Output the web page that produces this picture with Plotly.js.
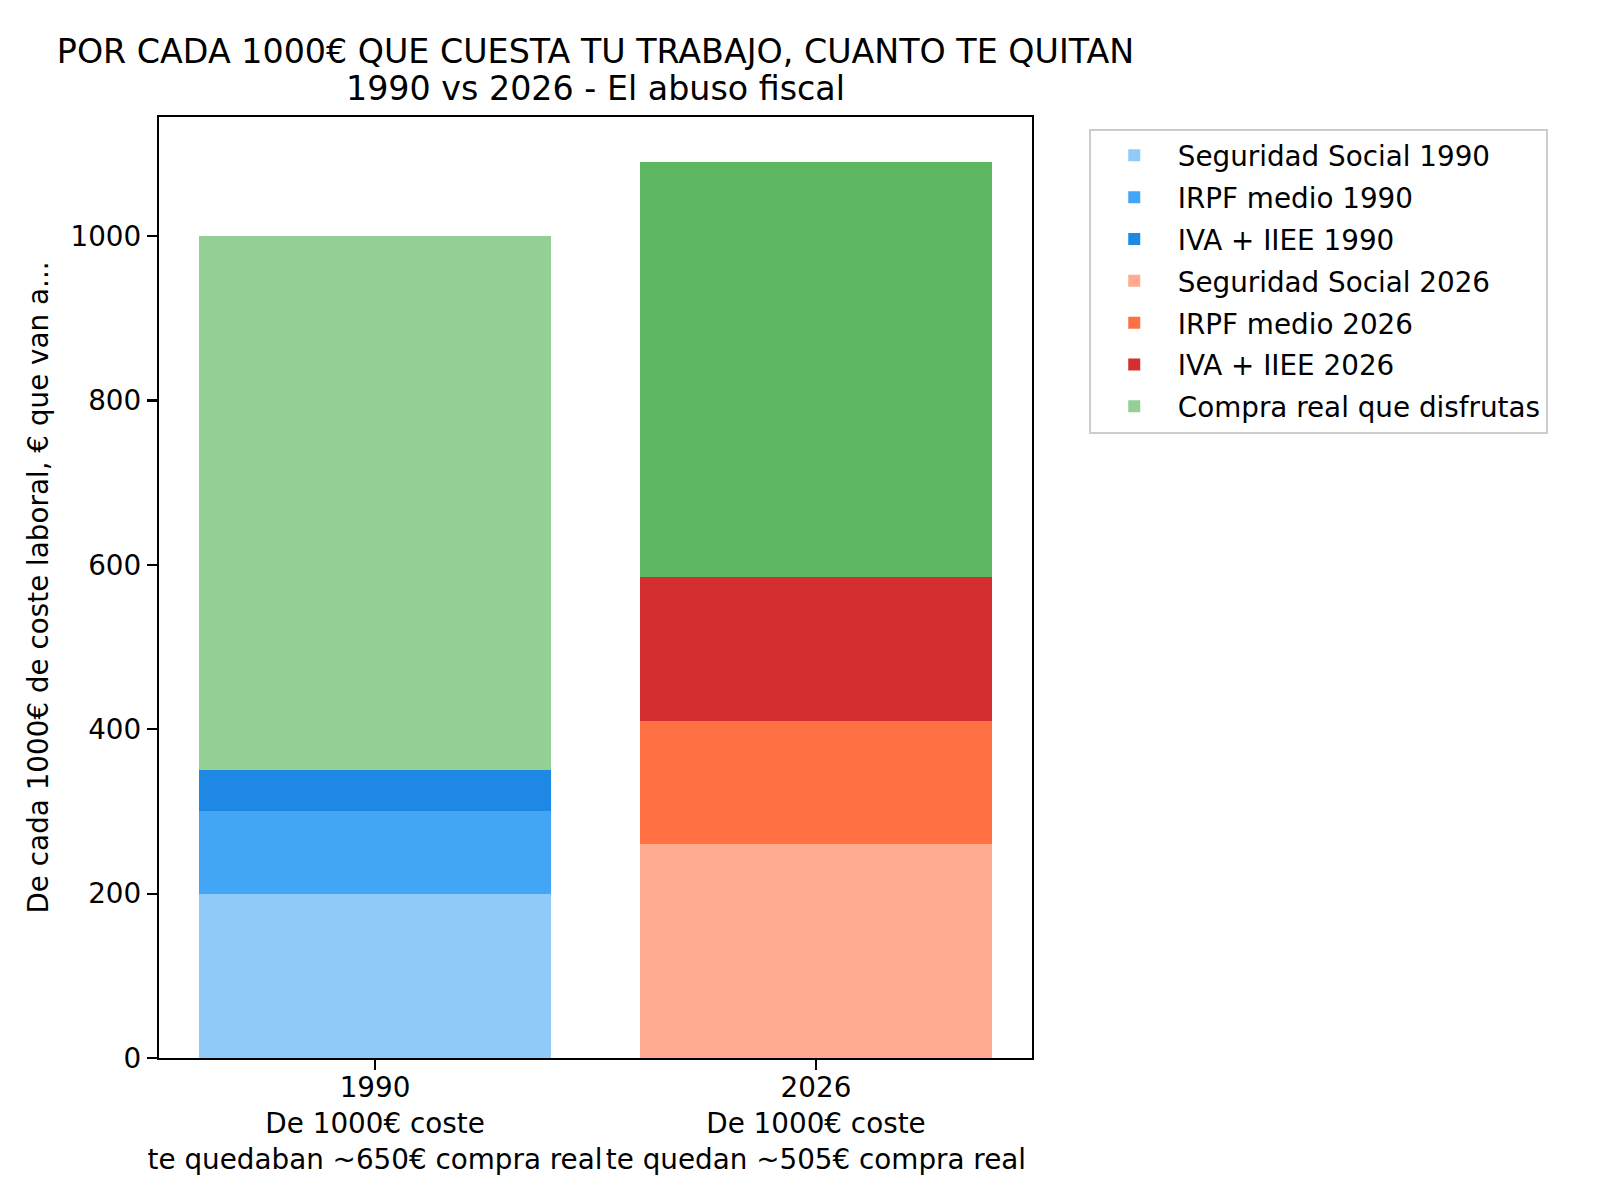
<!DOCTYPE html>
<html>
<head>
<meta charset="utf-8">
<script src="https://cdn.plot.ly/plotly-3.0.1.min.js"></script>
<style>html,body{margin:0;padding:0;background:#fff;}#chart{width:1600px;height:1200px;}</style>
</head>
<body>
<div id="chart"></div>
<script>
// ---- data ----
var categories = ['1990', '2026'];
var tickLabels = [
  '1990<br>De 1000€ coste<br>te quedaban ~650€ compra real',
  '2026<br>De 1000€ coste<br>te quedan ~505€ compra real'
];
var ss1990 = [200];
var irpf1990 = [100];
var iva1990 = [50];
var ss2026 = [260];
var irpf2026 = [150];
var iva2026 = [175];
var compraReal = [650, 505];

var seriesNames = [
  'Seguridad Social 1990', 'IRPF medio 1990', 'IVA + IIEE 1990',
  'Seguridad Social 2026', 'IRPF medio 2026', 'IVA + IIEE 2026',
  'Compra real que disfrutas'
];
var titleLine1 = 'POR CADA 1000€ QUE CUESTA TU TRABAJO, CUANTO TE QUITAN';
var titleLine2 = '1990 vs 2026 - El abuso fiscal';
var yTitle = 'De cada 1000€ de coste laboral, € que van a...';

var colors = {
  ss1990: '#90CAF9', irpf1990: '#42A5F5', iva1990: '#1E88E5',
  ss2026: '#FFAB91', irpf2026: '#FF7043', iva2026: '#D32F2F',
  compra: ['#94CF96', '#5EB761']
};

function bar(name, x, y, color, group) {
  return {
    type: 'bar', name: name, x: x, y: y, width: 0.8,
    marker: {color: color, line: {width: 0}},
    legendgroup: group, hoverinfo: 'name+y'
  };
}

var traces = [
  bar(seriesNames[0], [categories[0]], ss1990, colors.ss1990, 'g1'),
  bar(seriesNames[1], [categories[0]], irpf1990, colors.irpf1990, 'g2'),
  bar(seriesNames[2], [categories[0]], iva1990, colors.iva1990, 'g3'),
  bar(seriesNames[3], [categories[1]], ss2026, colors.ss2026, 'g4'),
  bar(seriesNames[4], [categories[1]], irpf2026, colors.irpf2026, 'g5'),
  bar(seriesNames[5], [categories[1]], iva2026, colors.iva2026, 'g6'),
  bar(seriesNames[6], categories, compraReal, colors.compra, 'g7')
];

var font = 'DejaVu Sans, sans-serif';
var fs = 27.8;
var layout = {
  width: 1600, height: 1200,
  paper_bgcolor: '#ffffff', plot_bgcolor: '#ffffff',
  font: {family: font, size: fs, color: '#000000'},
  barmode: 'stack',
  margin: {l: 159, r: 568, t: 116.5, b: 142, pad: 0},
  title: {
    text: titleLine1,
    font: {family: font, size: 33.3, color: '#000000'},
    x: 0.5, xanchor: 'center', xref: 'paper',
    y: 0.9575, yanchor: 'middle', yref: 'container'
  },
  annotations: [{
    text: titleLine2, showarrow: false,
    xref: 'paper', yref: 'paper', x: 0.5, y: 1.0303,
    xanchor: 'center', yanchor: 'middle',
    font: {family: font, size: 33.3, color: '#000000'}
  }],
  xaxis: {
    type: 'category',
    range: [-0.49, 1.49],
    tickmode: 'array', tickvals: categories, ticktext: tickLabels,
    tickangle: 0,
    showline: true, linecolor: '#000000', linewidth: 2.2, mirror: true,
    ticks: 'outside', ticklen: 10, tickwidth: 2.2, tickcolor: '#000000',
    showgrid: false, zeroline: false,
    ticklabelstandoff: -7,
    tickfont: {family: font, size: fs, color: '#000000'}
  },
  yaxis: {
    range: [0, 1145],
    tickmode: 'linear', tick0: 0, dtick: 200,
    showline: true, linecolor: '#000000', linewidth: 2.2, mirror: true,
    ticks: 'outside', ticklen: 10, tickwidth: 2.2, tickcolor: '#000000',
    showgrid: false, zeroline: false,
    tickfont: {family: font, size: fs, color: '#000000'},
    title: {text: yTitle, font: {family: font, size: fs, color: '#000000'}, standoff: 14}
  },
  showlegend: true,
  legend: {
    x: 1.065, xanchor: 'left', y: 0.9875, yanchor: 'top',
    bgcolor: '#ffffff', bordercolor: '#cccccc', borderwidth: 2,
    font: {family: font, size: fs, color: '#000000'},
    traceorder: 'grouped', itemwidth: 77, tracegroupgap: 2.7
  }
};

Plotly.newPlot('chart', traces, layout, {displayModeBar: false, staticPlot: true});
</script>
</body>
</html>
